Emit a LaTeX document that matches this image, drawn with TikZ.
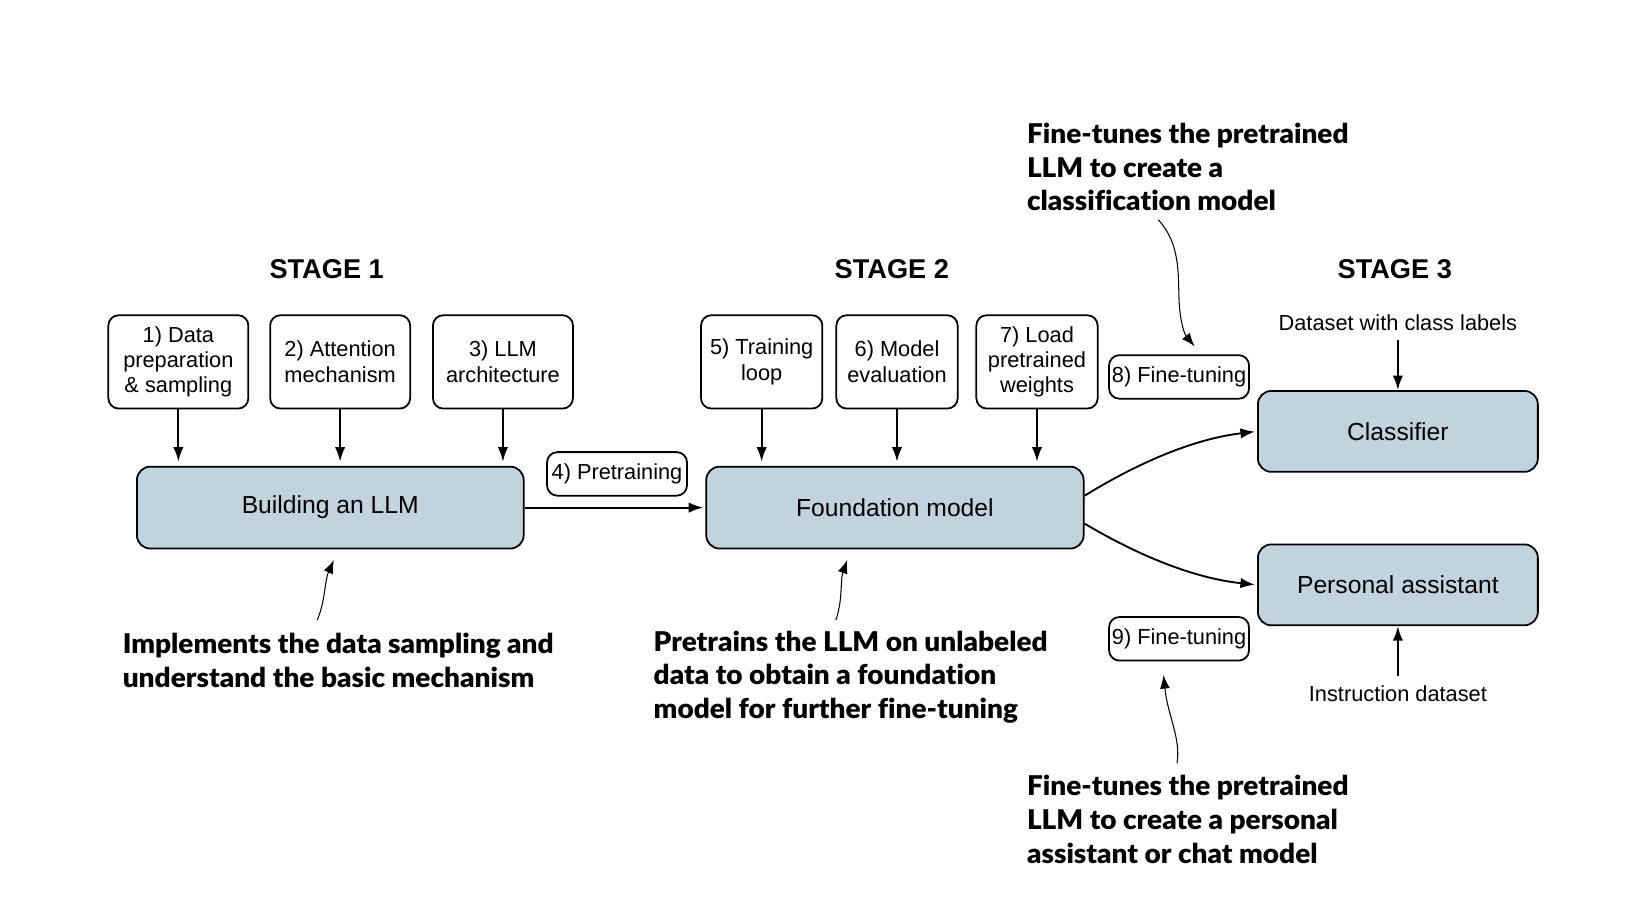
\documentclass[tikz,border=0pt]{standalone}
\usepackage{fontspec}
\setmainfont{Liberation Sans}
\newfontfamily\annfont{Lato}[UprightFont=* Black, Ligatures=NoCommon, FakeStretch=1.03]
\usetikzlibrary{arrows.meta}
\definecolor{boxblue}{HTML}{C1D3DE}
\tikzset{
  every node/.style={inner sep=0pt},
  smallbox/.style={draw, line width=0.85pt, rounded corners=5pt, align=center,
    minimum height=45pt, font=\fontsize{10.5}{12.25}\selectfont},
  bigbox/.style={draw, line width=0.85pt, fill=boxblue, rounded corners=6.5pt, align=center,
    minimum height=39.5pt, font=\fontsize{11.9}{14}\selectfont},
  tagbox/.style={draw, line width=0.85pt, rounded corners=5pt, align=center,
    minimum width=67.5pt, minimum height=21pt, font=\fontsize{10.5}{12.25}\selectfont},
  stagelbl/.style={font=\fontsize{13.1}{15}\selectfont\bfseries},
  plainlbl/.style={font=\fontsize{10.5}{12.25}\selectfont},
  annot/.style={align=left, anchor=west, font=\fontsize{13.1}{16.25}\selectfont\annfont},
  arr/.style={line width=0.9pt, -{Latex[length=7pt,width=5pt]}},
  thinarr/.style={line width=0.5pt, -{Latex[length=6.5pt,width=4.8pt]}}
}
\begin{document}
\begin{tikzpicture}[x=0.5pt,y=-0.5pt]
\useasboundingbox (0,0) rectangle (1568,875.6);

% stage labels
\node[stagelbl] (s1) at (315,260) {STAGE 1};
\node[stagelbl] (s2) at (860,260) {STAGE 2};
\node[stagelbl] (s3) at (1345,260) {STAGE 3};

% stage 1 boxes
\node[smallbox, minimum width=67.5pt] (b1) at (172,349) {1) Data\\preparation\\\& sampling};
\node[smallbox, minimum width=67.5pt] (b2) at (328,349) {2) Attention\\mechanism};
\node[smallbox, minimum width=67.5pt] (b3) at (485,349) {3) LLM\\architecture};
\node[bigbox, minimum width=186.5pt] (bld) at (318.5,489.5) {Building an LLM};

% stage 2 boxes
\node[smallbox, minimum width=58.5pt] (b5) at (734.5,349) {5) Training\\loop};
\node[smallbox, minimum width=58.5pt] (b6) at (865,349) {6) Model\\evaluation};
\node[smallbox, minimum width=58.5pt] (b7) at (1000,349) {7) Load\\pretrained\\weights};
\node[bigbox, minimum width=182pt] (fm) at (863,489.5) {Foundation model};

\node[tagbox] (pre) at (595,457) {4) Pretraining};

% stage 3
\node[bigbox, minimum width=135pt, minimum height=39pt] (cls) at (1348,416) {Classifier};
\node[bigbox, minimum width=135pt, minimum height=39pt] (pa) at (1348,564) {Personal assistant};
\node[tagbox] (ft8) at (1137,363.5) {8) Fine-tuning};
\node[tagbox] (ft9) at (1137,616) {9) Fine-tuning};
\node[plainlbl] (dcl) at (1348,311) {Dataset with class labels};
\node[plainlbl] (ins) at (1348,669) {Instruction dataset};

% annotations
\node[annot] (a1) at (118,637) {Implements the data sampling and\\understand the basic mechanism};
\node[annot] (a2) at (630,653) {Pretrains the LLM on unlabeled\\data to obtain a foundation\\model for further fine-tuning};
\node[annot] (a3) at (990,161) {Fine-tunes the pretrained\\LLM to create a\\classification model};
\node[annot] (a4) at (990,790) {Fine-tunes the pretrained\\LLM to create a personal\\assistant or chat model};

% connectors
\draw[arr, shorten >=2pt] (b1.south) -- (b1.south |- bld.north);
\draw[arr, shorten >=2pt] (b2.south) -- (b2.south |- bld.north);
\draw[arr, shorten >=2pt] (b3.south) -- (b3.south |- bld.north);
\draw[arr, shorten >=2pt] (b5.south) -- (b5.south |- fm.north);
\draw[arr, shorten >=2pt] (b6.south) -- (b6.south |- fm.north);
\draw[arr, shorten >=2pt] (b7.south) -- (b7.south |- fm.north);
\draw[arr, shorten >=1pt] (bld.east) -- (fm.west);

\coordinate (fu) at (1046,478);
\coordinate (fd) at (1046,505);
\draw[arr, shorten >=1pt] (fu) .. controls (1088,452) and (1145,424) .. (cls.west);
\draw[arr, shorten >=1pt] (fd) .. controls (1088,530) and (1145,557) .. (pa.west);

\draw[arr] (dcl.south) ++(0,9) coordinate (dtop) (dtop) -- (dtop |- cls.north);
\draw[arr] (ins.north) ++(0,-9) coordinate (ibot) (ibot) -- (ibot |- pa.south);

% annotation pointers
\coordinate (p1s) at (306,598);
\coordinate (p1e) at (322,540);
\draw[thinarr] (p1s) .. controls (314,578) and (313,560) .. (p1e);
\coordinate (p2s) at (806,598);
\coordinate (p2e) at (817,540);
\draw[thinarr] (p2s) .. controls (813,578) and (810,560) .. (p2e);
\coordinate (p3s) at (1117,212);
\coordinate (p3m) at (1137,290);
\coordinate (p3e) at (1152,334);
\draw[thinarr] (p3s) .. controls (1138,235) and (1136,262) .. (p3m) .. controls (1138,310) and (1142,322) .. (p3e);
\coordinate (p4s) at (1135,736);
\coordinate (p4e) at (1122,651);
\draw[thinarr] (p4s) .. controls (1139,712) and (1126,690) .. (p4e);
\end{tikzpicture}
\end{document}
